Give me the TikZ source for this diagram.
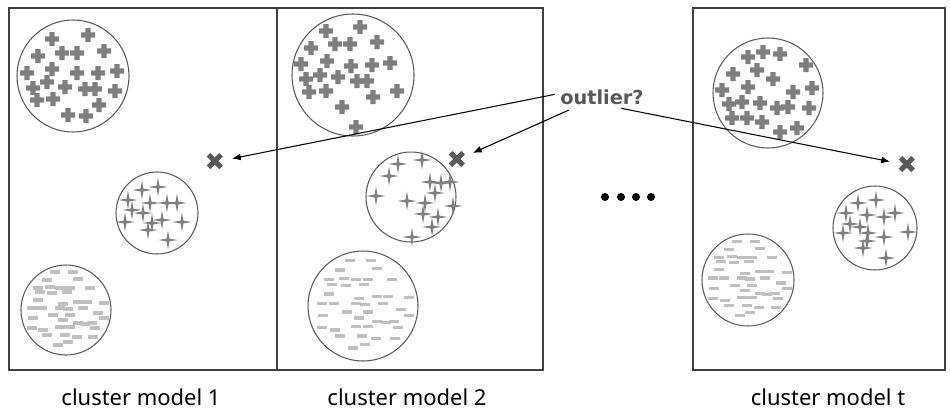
\documentclass[tikz,border=0pt]{standalone}
\usepackage{fontspec}
\setmainfont{Noto Sans}
\newfontfamily\dingfont{DejaVu Sans}
\usetikzlibrary{arrows.meta}
\definecolor{markgray}{HTML}{7F7F7F}
\definecolor{dashgray}{HTML}{C0C0C0}
\definecolor{ringgray}{HTML}{595959}
\definecolor{framegray}{HTML}{404040}
\definecolor{outgray}{HTML}{595959}
\tikzset{
  plusmark/.pic={\fill[markgray] (-7,-2.7) rectangle (7,2.7) (-2.7,-7) rectangle (2.7,7);},
  starmark/.pic={\fill[markgray] (0,-9.5) -- (1.4,-1.4) -- (9.5,0) -- (1.4,1.4) -- (0,9.5)
    -- (-1.4,1.4) -- (-9.5,0) -- (-1.4,-1.4) -- cycle;},
  dashmark/.pic={\fill[dashgray] (-5,-1.6) rectangle (5,1.6);}
}
\newcommand\dashspots{-11/-38, 7/-38, -19/-30, 12/-31, -28/-22, -16/-23, -6/-22, 4/-22,
  24/-22, -26/-18, -14/-17, 1/-18, -28/-10, -3/-6, 12/-8, 21/-8, 38/-7, -34/-2, -24/-2,
  -6/-2, 2/-1, 17/-2, -13/5, 4/5, 32/3, -33/8, -3/10, 12/13, 19/14, 26/13, 38/8, -34/18,
  -23/20, -6/17, 4/17, 29/18, -19/25, -1/25, 11/27, 27/27, 2/32, -8/35}
\begin{document}
\begin{tikzpicture}[x=0.02cm,y=-0.02cm,
    frame/.style={draw=framegray,line width=0.8pt},
    ring/.style={draw=ringgray,line width=0.6pt},
    outlier/.style={circle,inner sep=0pt,minimum size=0.68cm,text=outgray,
      font=\dingfont\fontsize{14}{14}\selectfont},
    pointer/.style={-{Latex[length=5pt,width=4pt]},line width=0.6pt},
    caption/.style={font=\fontsize{12.5}{14}\selectfont,text=black}]
  \useasboundingbox (0,0) rectangle (950,413);

  % panels
  \draw[frame] (9,8) rectangle (277,370);
  \draw[frame] (277,8) rectangle (543,370);
  \draw[frame] (693,8) rectangle (945,370);

  % cluster rings
  \draw[ring] (73,76) circle[radius=56];
  \draw[ring] (157,213) circle[radius=41];
  \draw[ring] (66,310) circle[radius=45];
  \draw[ring] (353,75) circle[radius=61];
  \draw[ring] (411,197) circle[radius=45];
  \draw[ring] (363,306) circle[radius=55];
  \draw[ring] (768,93) circle[radius=55];
  \draw[ring] (875,228) circle[radius=42];
  \draw[ring] (748,280) circle[radius=46];

  % plus clusters
  \foreach \p in {(52,39),(88,35),(38,56),(62,53),(77,53),(104,51),(52,69),(77,73),
    (98,73),(117,71),(27,73),(47,82),(33,88),(65,87),(85,89),(95,89),(115,91),
    (37,100),(53,99),(99,105),(68,115),(86,116),
    (326,31),(360,27),(311,48),(335,44),(350,44),(377,42),(301,64),(327,61),
    (351,66),(372,65),(390,63),(306,79),(320,75),(338,77),(357,81),(367,81),
    (309,92),(326,91),(373,97),(397,91),(342,107),(356,127),
    (748,57),(763,52),(780,54),(806,65),(733,74),(757,70),(773,79),(722,90),
    (748,87),(793,92),(812,88),(729,104),(742,102),(760,103),(777,108),(788,107),
    (809,108),(732,118),(747,118),(762,122),(797,128),(780,132)}
    \pic at \p {plusmark};

  % star clusters
  \foreach \p in {(142,190),(158,187),(128,200),(150,203),(167,203),(177,203),
    (132,210),(143,213),(125,222),(152,223),(162,220),(182,222),(148,230),(168,240),
    (398,164),(422,160),(389,176),(430,182),(441,183),(450,182),(376,196),(407,201),
    (435,193),(425,203),(453,206),(423,214),(438,217),(432,227),(412,237),
    (858,203),(876,200),(846,213),(867,215),(884,217),(895,213),(850,224),(860,227),
    (908,232),(843,233),(868,233),(884,237),(867,241),(863,248),(886,258)}
    \pic at \p {starmark};

  % dash clusters
  \foreach \cx/\cy/\k in {66/310/1, 363/306/1.2, 748/280/1.02}
    \foreach \dx/\dy in \dashspots
      \pic at ({\cx+\k*\dx},{\cy+\k*\dy}) {dashmark};

  % outliers
  \node[outlier] (x1) at (215,162) {✖};
  \node[outlier] (x2) at (457,160) {✖};
  \node[outlier] (x3) at (907,165) {✖};

  \node[font=\dingfont\bfseries\fontsize{11}{11}\selectfont,text=outgray,inner sep=1pt]
    (q) at (602,97) {outlier?};
  \draw[pointer] ([shift={(-2pt,1.5pt)}]q.west) -- (x1);
  \draw[pointer] ([shift={(6pt,-2pt)}]q.south west) -- (x2);
  \draw[pointer] ([shift={(11pt,-1pt)}]q.south) -- (x3);

  % more models
  \foreach \x in {605,621,636,651}
    \fill (\x,197) circle[radius=4];

  \node[caption] (m1) at (141,397) {cluster model 1};
  \node[caption] (m2) at (407,397) {cluster model 2};
  \node[caption] (mt) at (828,397) {cluster model t};
\end{tikzpicture}
\end{document}
